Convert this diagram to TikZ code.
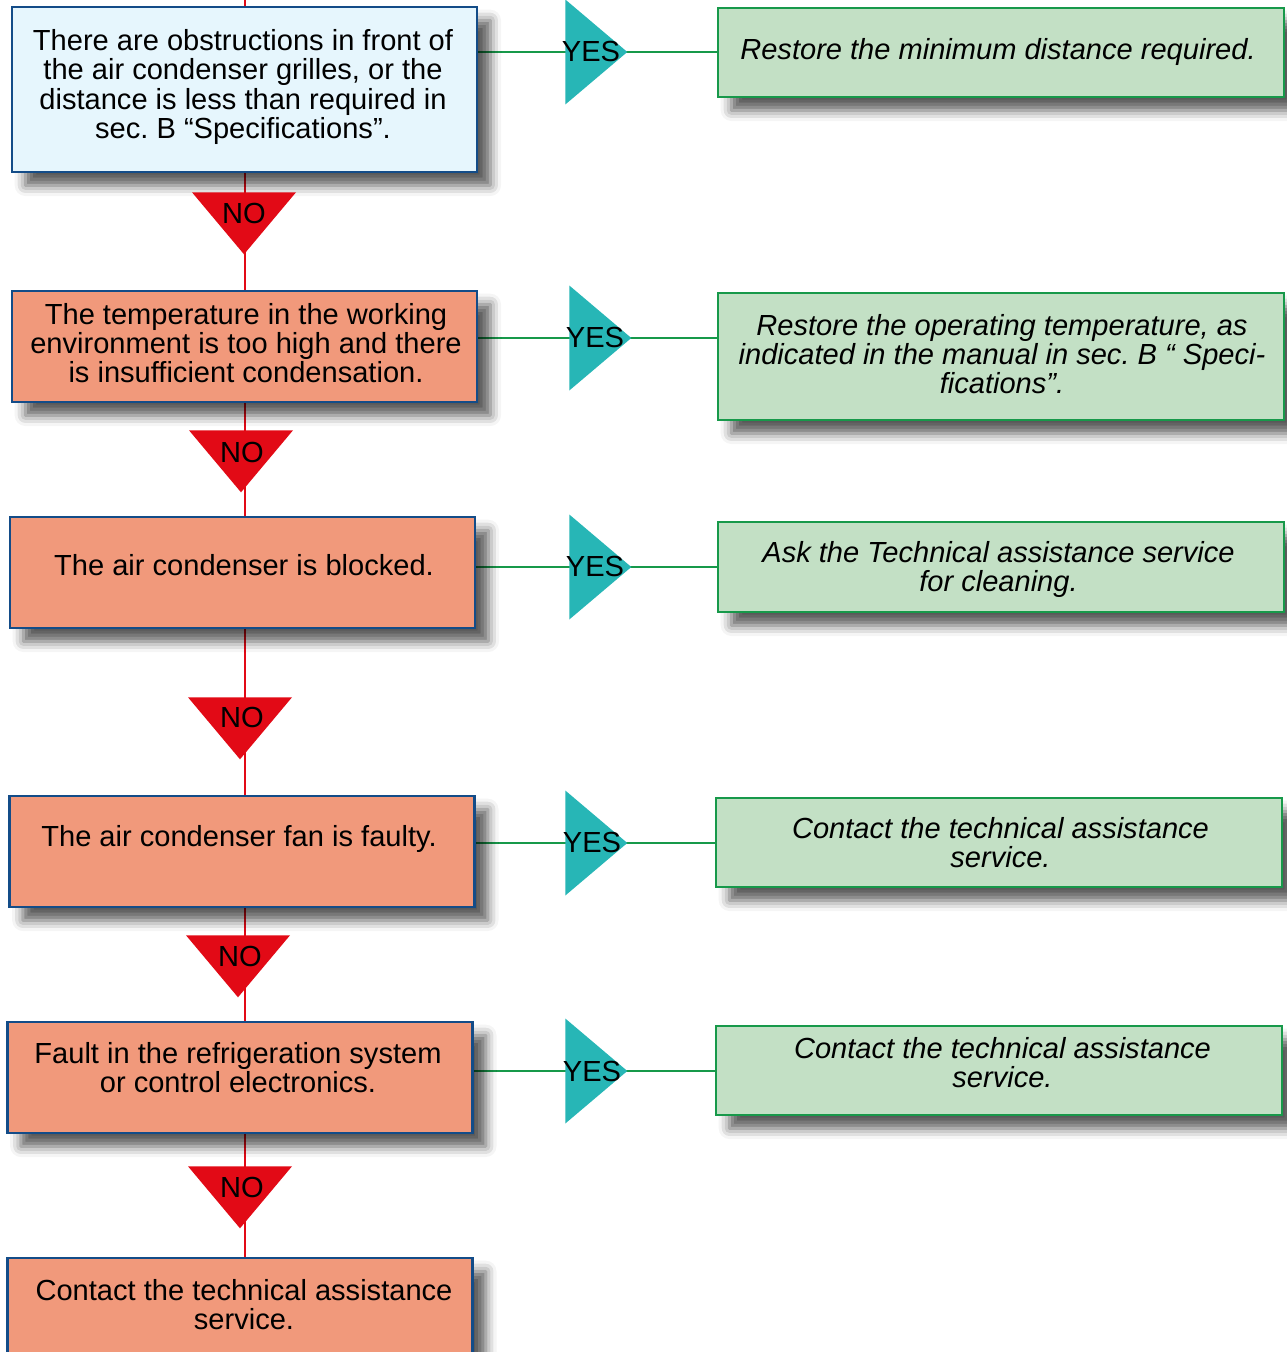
\documentclass[tikz,border=0pt]{standalone}
\usepackage{fontspec}
\setmainfont{Liberation Sans}
\usetikzlibrary{shapes.geometric,shadows.blur,backgrounds}
\frenchspacing

\definecolor{boxblue}{HTML}{E6F6FD}
\definecolor{boxline}{HTML}{134C88}
\definecolor{boxorange}{HTML}{F1997B}
\definecolor{boxgreen}{HTML}{C3E0C5}
\definecolor{greenline}{HTML}{17994A}
\definecolor{nored}{HTML}{E20A16}
\definecolor{yesteal}{HTML}{27B6B6}

\tikzset{
  boxshadow/.style={blur shadow={shadow xshift=10pt, shadow yshift=-10pt, shadow blur radius=8pt, shadow opacity=65}},
  cond/.style={draw=boxline, line width=1.9pt, fill=boxorange, minimum width=465*0.75pt, minimum height=111*0.75pt, inner sep=0pt, boxshadow},
  remedy/.style={draw=greenline, line width=1.9pt, fill=boxgreen, minimum width=566*0.75pt, minimum height=89*0.75pt, inner sep=0pt, boxshadow},
  txt/.style={align=center, inner sep=0pt, font=\fontsize{21.8}{22}\selectfont},
  itxt/.style={txt, font=\fontsize{21.8}{22}\selectfont\itshape},
  notri/.style={isosceles triangle, isosceles triangle stretches, shape border rotate=-90, minimum height=62*0.75pt, minimum width=104*0.75pt, inner sep=0pt, fill=nored, anchor=apex},
  yestri/.style={isosceles triangle, isosceles triangle stretches, minimum height=62*0.75pt, minimum width=105*0.75pt, inner sep=0pt, fill=yesteal, anchor=apex},
  noline/.style={draw=nored, line width=1.9pt},
  yesline/.style={draw=greenline, line width=1.9pt}
}

\begin{document}
\begin{tikzpicture}[x=0.75pt,y=0.75pt,yscale=-1,xscale=1]
    \useasboundingbox (0,0) rectangle (1287,1352);

    %Condition boxes
    \node[cond, fill=boxblue, minimum height=165*0.75pt] (c1) at (244.5,89.5) {};
    \node[cond] (c2) at (244.5,346.5) {};
    \node[cond] (c3) at (242.5,572.5) {};
    \node[cond] (c4) at (242,851.5) {};
    \node[cond] (c5) at (240,1077.5) {};
    \node[cond] (c6) at (240,1313.5) {};

    \node[txt] (t1) at (243,87) {There are obstructions in front of\\the air condenser grilles, or the\\distance is less than required in\\sec. B “Specifications”.};
    \node[txt] (t2) at (246,343) {The temperature in the working\\environment is too high and there\\is insufficient condensation.};
    \node[txt] (t3) at (244,565) {The air condenser is blocked.};
    \node[txt] (t4) at (239,839) {The air condenser fan is faulty.};
    \node[txt] (t5) at (238,1067.5) {Fault in the refrigeration system\\or control electronics.};
    \node[txt] (t6) at (244,1304.5) {Contact the technical assistance\\service.};

    %Remedy boxes
    \node[remedy] (g1) at (1001,52.5) {};
    \node[remedy, minimum height=127*0.75pt] (g2) at (1001,356.5) {};
    \node[remedy, minimum height=90*0.75pt] (g3) at (1001,567) {};
    \node[remedy] (g4) at (999,842.5) {};
    \node[remedy] (g5) at (999,1070.5) {};

    \node[itxt] (r1) at (998,51.5) {Restore the minimum distance required.};
    \node[itxt] (r2) at (1002,354) {Restore the operating temperature, as\\indicated in the manual in sec. B “ Speci-\\fications”.};
    \node[itxt] (r3) at (998.5,569.5) {Ask the Technical assistance service\\for cleaning.};
    \node[itxt] (r4) at (1000.5,842.5) {Contact the technical assistance\\service.};
    \node[itxt] (r5) at (1002.5,1062.5) {Contact the technical assistance\\service.};

    %NO triangles
    \node[notri] (no1) at (244,255) {};
    \node[notri] (no2) at (241,493) {};
    \node[notri] (no3) at (240,760) {};
    \node[notri] (no4) at (238,998) {};
    \node[notri] (no5) at (240,1229) {};
    \node[txt] (n1) at (244,213) {NO};
    \node[txt] (n2) at (242,452) {NO};
    \node[txt] (n3) at (242,717) {NO};
    \node[txt] (n4) at (240,956) {NO};
    \node[txt] (n5) at (242,1187) {NO};

    %YES triangles
    \node[yestri] (yes1) at (628,52) {};
    \node[yestri] (yes2) at (632,338) {};
    \node[yestri] (yes3) at (632,567) {};
    \node[yestri] (yes4) at (628,843) {};
    \node[yestri] (yes5) at (628,1071) {};
    \node[txt] (y1) at (591,51) {YES};
    \node[txt] (y2) at (595,337) {YES};
    \node[txt] (y3) at (595,566) {YES};
    \node[txt] (y4) at (592,842) {YES};
    \node[txt] (y5) at (592,1071) {YES};

    %Straight Lines
    \coordinate (top) at (245,0);
    \begin{scope}[on background layer]
    \draw[noline] (top) -- (top |- c6.north);
    \draw[yesline] (yes1 -| c1.east) -- (yes1 -| g1.west);
    \draw[yesline] (yes2 -| c2.east) -- (yes2 -| g2.west);
    \draw[yesline] (yes3 -| c3.east) -- (yes3 -| g3.west);
    \draw[yesline] (yes4 -| c4.east) -- (yes4 -| g4.west);
    \draw[yesline] (yes5 -| c5.east) -- (yes5 -| g5.west);
    \end{scope}
\end{tikzpicture}
\end{document}
